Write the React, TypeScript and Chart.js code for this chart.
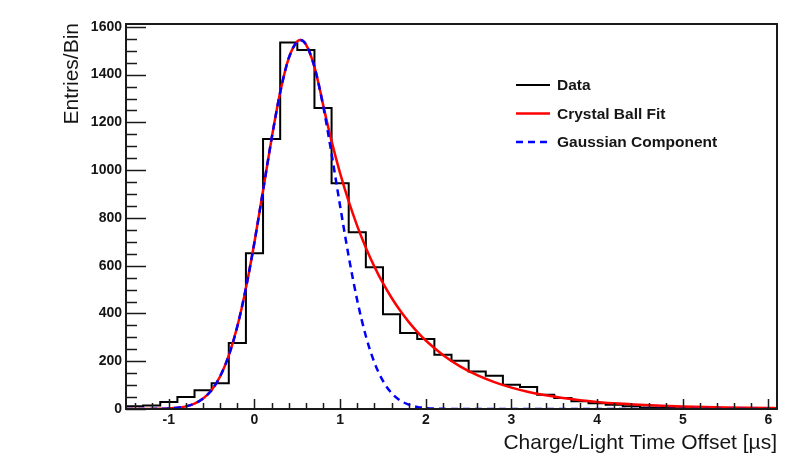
import React, { useEffect, useRef } from 'react';
import { Chart, registerables } from 'chart.js';

Chart.register(...registerables);

// ---- Data ----
const BIN_WIDTH = 0.2;
const binCenters = [
  -1.4, -1.2, -1.0, -0.8, -0.6, -0.4, -0.2, 0.0, 0.2, 0.4,
  0.6, 0.8, 1.0, 1.2, 1.4, 1.6, 1.8, 2.0, 2.2, 2.4,
  2.6, 2.8, 3.0, 3.2, 3.4, 3.6, 3.8, 4.0, 4.2, 4.4,
  4.6, 4.8, 5.0, 5.2, 5.4, 5.6, 5.8, 6.0,
];
const binCounts = [
  12, 15, 29, 50, 78, 108, 276, 652, 1130, 1535,
  1503, 1260, 945, 740, 594, 397, 318, 293, 227, 202,
  157, 139, 102, 92, 60, 46, 32, 24, 18, 12,
  6, 4, 3, 2, 2, 1, 1, 1,
];

const fitX = [
  -1.5, -1.4, -1.3, -1.2, -1.1, -1.0, -0.9, -0.8, -0.7, -0.6,
  -0.5, -0.4, -0.3, -0.2, -0.1, 0.0, 0.1, 0.2, 0.3, 0.4,
  0.5, 0.535, 0.6, 0.7, 0.769, 0.8, 0.9, 1.0, 1.1, 1.2,
  1.3, 1.4, 1.5, 1.6, 1.7, 1.8, 1.9, 2.0, 2.2, 2.4,
  2.6, 2.8, 3.0, 3.2, 3.4, 3.6, 3.8, 4.0, 4.25, 4.5,
  4.75, 5.0, 5.25, 5.5, 5.75, 6.0, 6.1,
];
const fitY = [
  0.0, 0.0, 0.1, 0.3, 0.9, 2.3, 5.2, 11.1, 22.7, 43.7,
  79.6, 137.4, 224.3, 346.3, 506.1, 699.6, 915.1, 1132.4, 1325.9, 1469.0,
  1539.8, 1545.0, 1527.0, 1432.9, 1328.1, 1275.5, 1121.5, 986.8, 869.0, 765.9,
  675.6, 596.3, 526.8, 465.8, 412.1, 364.9, 323.3, 286.7, 226.0, 178.5,
  141.5, 112.4, 89.5, 71.5, 57.2, 45.9, 36.9, 29.8, 22.8, 17.6,
  13.6, 10.5, 8.2, 6.4, 5.0, 3.9, 3.5,
];

const gausX = [
  -1.5, -1.4, -1.3, -1.2, -1.1, -1.0, -0.9, -0.8, -0.7, -0.6,
  -0.5, -0.4, -0.3, -0.2, -0.1, 0.0, 0.1, 0.2, 0.3, 0.4,
  0.5, 0.535, 0.6, 0.7, 0.8, 0.9, 1.0, 1.1, 1.2, 1.3,
  1.4, 1.5, 1.6, 1.7, 1.8, 1.9, 2.0, 2.1, 2.2, 2.4,
  2.6, 3.0, 4.0, 5.0, 6.1,
];
const gausY = [
  0.0, 0.0, 0.1, 0.3, 0.9, 2.3, 5.2, 11.1, 22.7, 43.7,
  79.6, 137.4, 224.3, 346.3, 506.1, 699.6, 915.1, 1132.4, 1325.9, 1469.0,
  1539.8, 1545.0, 1527.0, 1432.9, 1272.0, 1068.5, 849.2, 638.5, 454.2, 305.8,
  194.7, 117.4, 66.9, 36.1, 18.4, 8.9, 4.1, 1.8, 0.7, 0.1,
  0.0, 0.0, 0.0, 0.0, 0.0,
];

const xTickValues = [-1, 0, 1, 2, 3, 4, 5, 6];
const yTickValues = [0, 200, 400, 600, 800, 1000, 1200, 1400, 1600];
const X_MIN = -1.5;
const X_MAX = 6.1;
const Y_MIN = 0;
const Y_MAX = 1612;
const X_MINOR_STEP = 0.2;
const Y_MINOR_STEP = 50;

const legendLabels = ['Data', 'Crystal Ball Fit', 'Gaussian Component'];
const xTitle = 'Charge/Light Time Offset [\u00b5s]';
const yTitle = 'Entries/Bin';

const FONT = "'Liberation Sans', Arial, Helvetica, sans-serif";

const rootStylePlugin = {
  id: 'rootStyle',
  beforeDraw(chart: any) {
    const { ctx } = chart;
    ctx.save();
    ctx.fillStyle = '#ffffff';
    ctx.fillRect(0, 0, chart.width, chart.height);
    ctx.restore();
  },
  afterDatasetsDraw(chart: any) {
    const { ctx, chartArea } = chart;
    const xs = chart.scales.x;
    const ys = chart.scales.y;
    const { left, right, top, bottom } = chartArea;
    ctx.save();
    ctx.strokeStyle = '#1a1a1a';
    ctx.lineWidth = 1.5;
    ctx.beginPath();
    // y ticks (inside, from left axis)
    for (let v = Y_MIN; v <= 1600 + 1e-6; v += Y_MINOR_STEP) {
      const y = Math.round(ys.getPixelForValue(v)) + 0.5;
      const major = Math.abs(v % 200) < 1e-6;
      ctx.moveTo(left, y);
      ctx.lineTo(left + (major ? 20 : 11), y);
    }
    // x ticks (inside, from bottom axis)
    const nMinor = Math.round((X_MAX - X_MIN) / X_MINOR_STEP);
    for (let i = 0; i <= nMinor; i++) {
      const v = X_MIN + 0.1 + i * X_MINOR_STEP;
      if (v > X_MAX - 0.05) break;
      const vr = Math.round(v * 10) / 10;
      const x = Math.round(xs.getPixelForValue(vr)) + 0.5;
      const major = Math.abs(vr - Math.round(vr)) < 1e-6;
      ctx.moveTo(x, bottom);
      ctx.lineTo(x, bottom - (major ? 10 : 6));
    }
    ctx.stroke();
    // frame
    ctx.strokeStyle = '#1a1a1a';
    ctx.lineWidth = 2;
    ctx.strokeRect(left, top, right - left, bottom - top);
    ctx.restore();
  },
  afterDraw(chart: any) {
    const { ctx } = chart;
    ctx.save();
    // legend
    const legendColors = ['#000000', '#ff0000', '#0000ff'];
    const legendY = [85, 113.5, 142];
    ctx.font = `bold 15.5px ${FONT}`;
    ctx.textBaseline = 'middle';
    ctx.textAlign = 'left';
    legendLabels.forEach((label, i) => {
      ctx.beginPath();
      ctx.strokeStyle = legendColors[i];
      ctx.lineWidth = i === 0 ? 2 : 2.5;
      ctx.setLineDash(i === 2 ? [7, 5] : []);
      ctx.moveTo(516, legendY[i]);
      ctx.lineTo(550, legendY[i]);
      ctx.stroke();
      ctx.setLineDash([]);
      ctx.fillStyle = '#151515';
      ctx.fillText(label, 557, legendY[i] + 1);
    });
    // axis titles
    ctx.fillStyle = '#151515';
    ctx.font = `21px ${FONT}`;
    ctx.textAlign = 'right';
    ctx.textBaseline = 'alphabetic';
    ctx.fillText(xTitle, 777, 449);
    ctx.translate(78, 23);
    ctx.rotate(-Math.PI / 2);
    ctx.textAlign = 'right';
    ctx.textBaseline = 'alphabetic';
    ctx.fillText(yTitle, 0, 0);
    ctx.restore();
  },
};

export default function App() {
  const canvasRef = useRef<HTMLCanvasElement | null>(null);

  useEffect(() => {
    const canvas = canvasRef.current;
    if (!canvas) return;

    const histPoints = binCenters.map((c, i) => ({ x: c - BIN_WIDTH / 2, y: binCounts[i] }));
    histPoints.push({
      x: binCenters[binCenters.length - 1] + BIN_WIDTH / 2,
      y: binCounts[binCounts.length - 1],
    });
    const fitPoints = fitX.map((x, i) => ({ x, y: fitY[i] }));
    const gausPoints = gausX.map((x, i) => ({ x, y: gausY[i] }));

    const chart = new Chart(canvas, {
      type: 'line',
      data: {
        datasets: [
          {
            label: legendLabels[0],
            data: histPoints,
            borderColor: '#000000',
            borderWidth: 2,
            pointRadius: 0,
            fill: false,
            stepped: 'before',
            order: 3,
          },
          {
            label: legendLabels[1],
            data: fitPoints,
            borderColor: '#ff0000',
            borderWidth: 2.5,
            pointRadius: 0,
            fill: false,
            cubicInterpolationMode: 'monotone',
            order: 2,
          },
          {
            label: legendLabels[2],
            data: gausPoints,
            borderColor: '#0000ff',
            borderWidth: 2.5,
            borderDash: [7, 5],
            pointRadius: 0,
            fill: false,
            cubicInterpolationMode: 'monotone',
            order: 1,
          },
        ],
      },
      options: {
        responsive: false,
        animation: false,
        devicePixelRatio: 1,
        parsing: false,
        layout: { padding: { top: 24, right: 31, bottom: 0, left: 0 } },
        plugins: {
          legend: { display: false },
          tooltip: { enabled: false },
          title: { display: false },
        },
        scales: {
          x: {
            type: 'linear',
            min: X_MIN,
            max: X_MAX,
            grid: { display: false, drawTicks: false },
            border: { display: false },
            ticks: {
              color: '#151515',
              font: { family: FONT, size: 14, weight: 'bold' },
              padding: 3,
              autoSkip: false,
              maxRotation: 0,
              callback: (v: any) => String(v),
            },
            afterBuildTicks: (s: any) => {
              s.ticks = xTickValues.map((v) => ({ value: v }));
            },
            afterFit: (s: any) => {
              s.height = 55;
            },
          },
          y: {
            type: 'linear',
            min: Y_MIN,
            max: Y_MAX,
            grid: { display: false, drawTicks: false },
            border: { display: false },
            ticks: {
              color: '#151515',
              font: { family: FONT, size: 14, weight: 'bold' },
              padding: 4,
              callback: (v: any) => String(v),
            },
            afterBuildTicks: (s: any) => {
              s.ticks = yTickValues.map((v) => ({ value: v }));
            },
            afterFit: (s: any) => {
              s.width = 126;
            },
          },
        },
      },
      plugins: [rootStylePlugin],
    } as any);

    return () => {
      chart.destroy();
    };
  }, []);

  return (
    <div style={{ position: 'fixed', left: 0, top: 0, width: 808, height: 464, background: '#ffffff' }}>
      <canvas ref={canvasRef} width={808} height={464} style={{ display: 'block', width: 808, height: 464 }} />
    </div>
  );
}
